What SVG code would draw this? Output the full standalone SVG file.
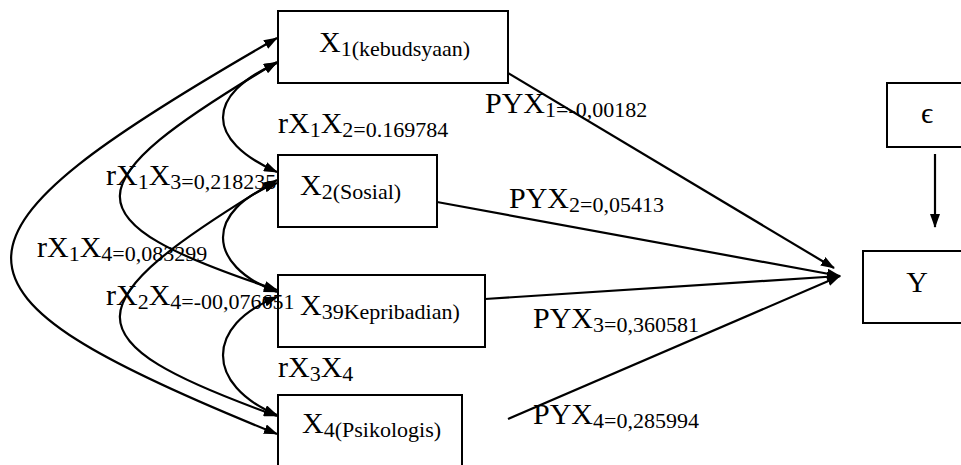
<svg xmlns="http://www.w3.org/2000/svg" width="961" height="465" viewBox="0 0 961 465" font-family="'Liberation Serif', 'Times New Roman', 'DejaVu Serif', serif">
<style>
.box{fill:#fff;stroke:#000;stroke-width:2}
.c{fill:none;stroke:#000;stroke-width:2.2}
.t{font-family:'Liberation Serif','Times New Roman','DejaVu Serif',serif;fill:#000;font-size:30px}
.s{font-size:22px}
</style>
<defs>
<marker id="ah" markerUnits="userSpaceOnUse" markerWidth="14" markerHeight="10" refX="13" refY="5" orient="auto-start-reverse" viewBox="0 0 14 10">
<path d="M0,0 L14,5 L0,10 z" fill="#000"/>
</marker>
</defs>
<rect width="961" height="465" fill="#fff"/>
<g id="connectors">
<path class="c" d="M277,38 C-75,240 -80,290 277,434" marker-start="url(#ah)" marker-end="url(#ah)"/>
<path class="c" d="M277,62 C70,185 65,220 277,290" marker-start="url(#ah)" marker-end="url(#ah)"/>
<path class="c" d="M277,180 C70,305 65,340 277,416" marker-start="url(#ah)" marker-end="url(#ah)"/>
<path class="c" d="M277,63 C205,95 205,140 277,172" marker-start="url(#ah)" marker-end="url(#ah)"/>
<path class="c" d="M277,183 C205,210 205,265 277,292" marker-start="url(#ah)" marker-end="url(#ah)"/>
<path class="c" d="M277,297 C205,325 205,385 277,415" marker-start="url(#ah)" marker-end="url(#ah)"/>
<path class="c" d="M483,58 L834,268" marker-end="url(#ah)"/>
<path class="c" d="M437,202 L840,276" marker-end="url(#ah)"/>
<path class="c" d="M485,299 L840,276" marker-end="url(#ah)"/>
<path class="c" d="M508,419 L840,276" marker-end="url(#ah)"/>
<path class="c" d="M935,154 L935,227" marker-end="url(#ah)"/>
</g>
<g id="X1">
<rect class="box" x="278" y="11" width="230" height="72"/>
<text class="t" x="319" y="52">X<tspan class="s" dy="4">1(kebudsyaan)</tspan></text>
</g>
<g id="X2">
<rect class="box" x="278" y="155" width="159" height="72"/>
<text class="t" x="300" y="195">X<tspan class="s" dy="4">2(Sosial)</tspan></text>
</g>
<g id="X3">
<rect class="box" x="278" y="275" width="207" height="72"/>
<text class="t" x="300" y="315">X<tspan class="s" dy="4">39Kepribadian)</tspan></text>
</g>
<g id="X4">
<rect class="box" x="278" y="395" width="184" height="80"/>
<text class="t" x="302" y="433">X<tspan class="s" dy="4">4(Psikologis)</tspan></text>
</g>
<g id="E">
<rect class="box" x="887" y="83" width="80" height="64"/>
<text class="t" x="927" y="123" text-anchor="middle">ϵ</text>
</g>
<g id="Y">
<rect class="box" x="863" y="251" width="104" height="72"/>
<text class="t" x="917" y="292" text-anchor="middle">Y</text>
</g>
<g id="labels">
<text class="t" x="278" y="133">rX<tspan class="s" dy="4">1</tspan><tspan dy="-4">X</tspan><tspan class="s" dy="4">2=0.169784</tspan></text>
<text class="t" x="106" y="185">rX<tspan class="s" dy="4">1</tspan><tspan dy="-4">X</tspan><tspan class="s" dy="4">3=0,218235</tspan></text>
<text class="t" x="37" y="257">rX<tspan class="s" dy="4">1</tspan><tspan dy="-4">X</tspan><tspan class="s" dy="4">4=0,083299</tspan></text>
<text class="t" x="106" y="305">rX<tspan class="s" dy="4">2</tspan><tspan dy="-4">X</tspan><tspan class="s" dy="4">4=-00,076651</tspan></text>
<text class="t" x="278" y="377">rX<tspan class="s" dy="4">3</tspan><tspan dy="-4">X</tspan><tspan class="s" dy="4">4</tspan></text>
<text class="t" x="485" y="113">PYX<tspan class="s" dy="4">1=-0,00182</tspan></text>
<text class="t" x="509" y="208">PYX<tspan class="s" dy="4">2=0,05413</tspan></text>
<text class="t" x="533" y="328">PYX<tspan class="s" dy="4">3=0,360581</tspan></text>
<text class="t" x="533" y="424">PYX<tspan class="s" dy="4">4=0,285994</tspan></text>
</g>
</svg>
